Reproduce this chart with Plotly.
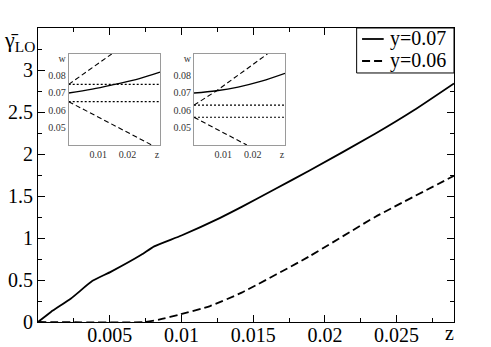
import plotly.graph_objects as go

# Main curves
z_y07 = [0, 0.0009, 0.0023, 0.0038, 0.0051, 0.0072, 0.0081, 0.0100, 0.0127, 0.0142, 0.0165, 0.0189, 0.0235, 0.0262, 0.0290]
g_y07 = [0, 0.12, 0.28, 0.49, 0.60, 0.80, 0.90, 1.03, 1.24, 1.37, 1.58, 1.80, 2.24, 2.52, 2.84]
z_y06 = [0, 0.0074, 0.0085, 0.0099, 0.0120, 0.0142, 0.0189, 0.0235, 0.0290]
g_y06 = [0, 0, 0.03, 0.09, 0.19, 0.35, 0.78, 1.25, 1.74]
name_07 = "y=0.07"
name_06 = "y=0.06"

# Inset 1
in1_solid_z = [0, 0.008, 0.0157, 0.024, 0.031]
in1_solid_w = [0.070, 0.0722, 0.075, 0.0783, 0.082]
in1_up_z = [0, 0.0146]
in1_up_w = [0.075, 0.0925]
in1_lo_z = [0, 0.0282]
in1_lo_w = [0.065, 0.040]
in1_dot_w = [0.075, 0.065]

# Inset 2
in2_solid_z = [0, 0.0077, 0.015, 0.023, 0.031]
in2_solid_w = [0.070, 0.0713, 0.0734, 0.0768, 0.0813]
in2_up_z = [0, 0.0077, 0.025]
in2_up_w = [0.063, 0.0713, 0.0925]
in2_lo_z = [0, 0.018]
in2_lo_w = [0.056, 0.040]
in2_dot_w = [0.063, 0.056]
inset_zrange = [0, 0.031]

main_yticks = [0, 0.5, 1, 1.5, 2, 2.5, 3]
main_ytext = ["0", "0.5", "1", "1.5", "2", "2.5", "3"]
main_xticks = [0.005, 0.01, 0.015, 0.02, 0.025]
main_xtext = ["0.005", "0.01", "0.015", "0.02", "0.025"]
in_yticks = [0.05, 0.06, 0.07, 0.08, 0.09]
in_ytext = ["0.05", "0.06", "0.07", "0.08", "w"]
in_xticks = [0.01, 0.02, 0.03]
in_xtext = ["0.01", "0.02", "z"]

SERIF = "Times New Roman, Liberation Serif, DejaVu Serif, serif"
DASH = "8px,4px"
fig = go.Figure()

fig.add_trace(go.Scatter(x=z_y07, y=g_y07, mode="lines", name=name_07, showlegend=False,
                         line=dict(color="black", width=1.8, shape="spline", smoothing=0.5)))
fig.add_trace(go.Scatter(x=z_y06, y=g_y06, mode="lines", name=name_06, showlegend=False,
                         line=dict(color="black", width=1.8, dash=DASH, shape="spline", smoothing=0.5)))

def inset(xa, ya, sz, sw, uz, uw, lz, lw, dots):
    kw = dict(xaxis=xa, yaxis=ya, mode="lines", showlegend=False, hoverinfo="skip")
    fig.add_trace(go.Scatter(x=sz, y=sw, line=dict(color="black", width=1.3, shape="spline"), **kw))
    fig.add_trace(go.Scatter(x=uz, y=uw, line=dict(color="black", width=1.1, dash="5px,3px"), **kw))
    fig.add_trace(go.Scatter(x=lz, y=lw, line=dict(color="black", width=1.1, dash="5px,3px"), **kw))
    for d in dots:
        fig.add_trace(go.Scatter(x=inset_zrange, y=[d, d], line=dict(color="black", width=1.1, dash="2px,2px"), **kw))

inset("x2", "y2", in1_solid_z, in1_solid_w, in1_up_z, in1_up_w, in1_lo_z, in1_lo_w, in1_dot_w)
inset("x3", "y3", in2_solid_z, in2_solid_w, in2_up_z, in2_up_w, in2_lo_z, in2_lo_w, in2_dot_w)

main_ax = dict(showline=True, linecolor="black", linewidth=1.2, mirror="ticks",
               ticks="inside", ticklen=7, tickwidth=1, tickcolor="black",
               showgrid=False, zeroline=False, automargin=False,
               tickfont=dict(family=SERIF, size=20, color="black"))

inset_ax = dict(showline=True, linecolor="#9a9a9a", linewidth=1, mirror=True,
                ticks="", showgrid=False, zeroline=False, automargin=False,
                tickfont=dict(family=SERIF, size=10, color="#333"))

leg_x0, leg_x1, leg_y0, leg_y1 = 0.766, 1.0, 0.847, 1.0
row_y = [0.9626, 0.8878]
shapes = [
    dict(type="rect", xref="paper", yref="paper", x0=leg_x0, x1=leg_x1, y0=leg_y0, y1=leg_y1,
         line=dict(color="black", width=1), fillcolor="white", layer="above"),
    dict(type="line", xref="paper", yref="paper", x0=0.779, x1=0.831, y0=row_y[0], y1=row_y[0],
         line=dict(color="black", width=1.8), layer="above"),
    dict(type="line", xref="paper", yref="paper", x0=0.779, x1=0.831, y0=row_y[1], y1=row_y[1],
         line=dict(color="black", width=1.8, dash=DASH), layer="above"),
]
annotations = [
    dict(text=name_07, xref="paper", yref="paper", x=0.842, y=row_y[0], xanchor="left", yanchor="middle",
         showarrow=False, font=dict(family=SERIF, size=20, color="black")),
    dict(text=name_06, xref="paper", yref="paper", x=0.842, y=row_y[1], xanchor="left", yanchor="middle",
         showarrow=False, font=dict(family=SERIF, size=20, color="black")),
    dict(text="γ̄<sub>LO</sub>", xref="paper", yref="paper", x=-0.045, y=0.955,
         xanchor="center", yanchor="middle", showarrow=False,
         font=dict(family=SERIF, size=22, color="black")),
    dict(text="z", xref="x", yref="paper", x=0.0287, y=-0.038,
         xanchor="center", yanchor="middle", showarrow=False,
         font=dict(family=SERIF, size=20, color="black")),
]

fig.update_layout(
    width=491, height=347,
    margin=dict(l=38, r=37, t=28, b=25),
    paper_bgcolor="white", plot_bgcolor="white",
    showlegend=False,
    xaxis=dict(range=[0, 0.029], tickvals=main_xticks, ticktext=main_xtext, ticklabelstandoff=-5,
               minor=dict(ticks="inside", ticklen=4, tickvals=[0.0025, 0.0075, 0.0125, 0.0175, 0.0225, 0.0275], tickcolor="black"),
               **main_ax),
    yaxis=dict(range=[0, 3.5], tickvals=main_yticks, ticktext=main_ytext,
               minor=dict(ticks="inside", ticklen=4, tickvals=[0.25, 0.75, 1.25, 1.75, 2.25, 2.75, 3.25], tickcolor="black"),
               **main_ax),
    xaxis2=dict(domain=[0.0738, 0.2933], anchor="y2", range=inset_zrange,
                tickvals=in_xticks, ticktext=in_xtext, **inset_ax),
    yaxis2=dict(domain=[0.602, 0.9116], anchor="x2", range=[0.040, 0.0925],
                tickvals=in_yticks, ticktext=in_ytext, **inset_ax),
    xaxis3=dict(domain=[0.375, 0.5938], anchor="y3", range=inset_zrange,
                tickvals=in_xticks, ticktext=in_xtext, **inset_ax),
    yaxis3=dict(domain=[0.602, 0.9116], anchor="x3", range=[0.040, 0.0925],
                tickvals=in_yticks, ticktext=in_ytext, **inset_ax),
    shapes=shapes,
    annotations=annotations,
)

fig.write_html("out.html", config={"displayModeBar": False},
               post_script="document.body.style.margin='0px';")
